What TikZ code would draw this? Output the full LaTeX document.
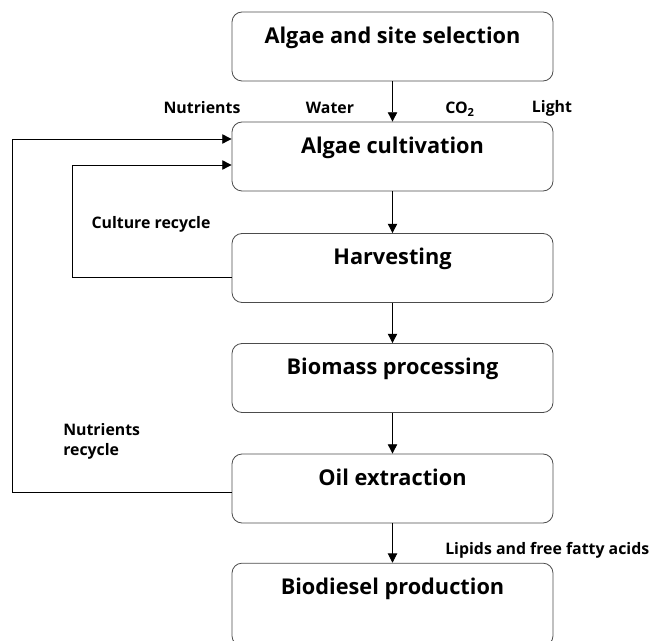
\documentclass[tikz,border=0pt]{standalone}
\usepackage{fontspec}
\setmainfont{Open Sans}
\usetikzlibrary{arrows.meta}

\tikzset{
  stage/.style={draw=black!70, rounded corners=7.5pt, line width=0.6pt,
    minimum width=240.75pt, inner xsep=0pt, inner ysep=0pt,
    text height=23.5pt, text depth=28.25pt, font=\bfseries\fontsize{16.3}{18}\selectfont},
  tag/.style={font=\bfseries\fontsize{11.9}{15}\selectfont, inner sep=0pt},
  flow/.style={-{Triangle[length=7pt,width=7pt]}, line width=0.7pt}
}

\begin{document}
\begin{tikzpicture}[x=0.75pt,y=-0.75pt]
        \clip (0,0) rectangle (652,641);
        \node[stage] (sel)  at (392.5, 46.5) {Algae and site selection};
        \node[stage] (cult) at (392.5,156.5) {Algae cultivation};
        \node[stage] (harv) at (392.5,268)   {Harvesting};
        \node[stage] (bio)  at (392.5,378)   {Biomass processing};
        \node[stage] (oil)  at (392.5,488.5) {Oil extraction};
        \node[stage, text depth=38.5pt] (prod) at (392.5,604.5) {Biodiesel production};

        \node[tag] (nut)   at (202,108) {Nutrients};
        \node[tag] (water) at (330,108) {Water};
        \node[tag] (co)    at (460,109) {CO\textsubscript{2}};
        \node[tag] (light) at (552,108) {Light};
        \node[tag] (cultrec) at (151,224) {Culture recycle};
        \node[tag, align=left, anchor=north west] (nutrec) at (63,423) {Nutrients\\recycle};
        \node[tag, anchor=west] (lipids) at (445,550) {Lipids and free fatty acids};

        \draw[flow] (sel.south) -- (cult.north);
        \draw[flow] (cult.south) -- (harv.north);
        \draw[flow] (harv.south) -- (bio.north);
        \draw[flow] (bio.south) -- (oil.north);
        \draw[flow] (oil.south) -- (prod.north);

        % recycle loops
        \coordinate (cr1) at (72,277);
        \coordinate (cr2) at (72,165);
        \draw[line width=0.7pt] (cr1 -| harv.west) -- (cr1) -- (cr2);
        \draw[flow] (cr2) -- (cr2 -| cult.west);
        \coordinate (nr1) at (12,492);
        \coordinate (nr2) at (12,139);
        \draw[line width=0.7pt] (nr1 -| oil.west) -- (nr1) -- (nr2);
        \draw[flow] (nr2) -- (nr2 -| cult.west);
    \end{tikzpicture}
\end{document}
